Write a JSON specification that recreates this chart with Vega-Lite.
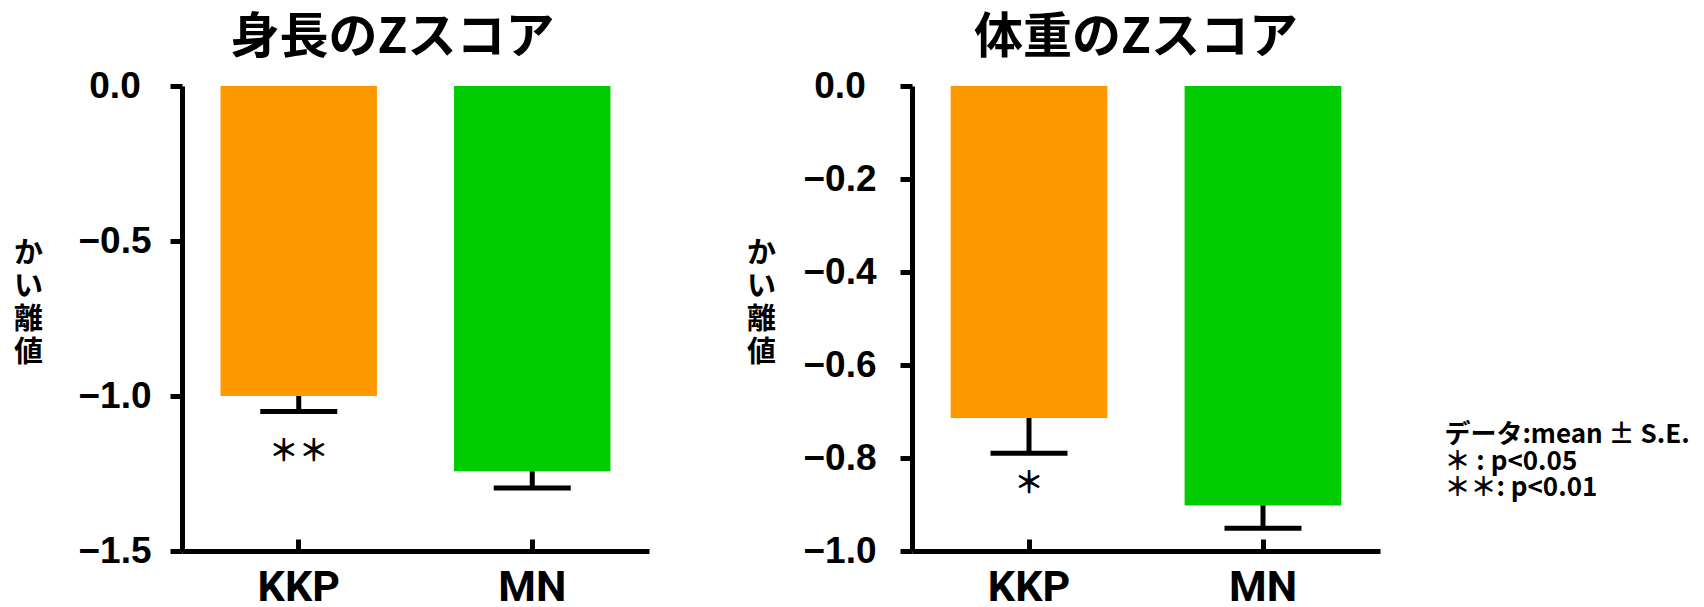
{
  "$schema": "https://vega.github.io/schema/vega-lite/v6.json",
  "background": "white",
  "padding": {"left": 13, "top": 14, "right": 5, "bottom": 0},
  "bounds": "flush",
  "spacing": 263,
  "config": {"view": {"stroke": null}, "axis": {"grid": false}},
  "datasets": {
    "heightZ": [
      {"group": "KKP", "mean": -1.0, "lower": -1.05, "sig": "＊＊"},
      {"group": "MN", "mean": -1.243, "lower": -1.297, "sig": ""}
    ],
    "weightZ": [
      {"group": "KKP", "mean": -0.714, "lower": -0.79, "sig": "＊"},
      {"group": "MN", "mean": -0.902, "lower": -0.951, "sig": ""}
    ],
    "note": [
      {"line": 1, "text": "データ:mean ± S.E."},
      {"line": 2, "text": "＊ : p<0.05"},
      {"line": 3, "text": "＊＊: p<0.01"}
    ]
  },
  "hconcat": [
    {
      "width": 467,
      "height": 465,
      "data": {"name": "heightZ"},
      "title": {"text": "身長のZスコア", "font": "Noto Sans CJK JP", "fontSize": 49, "fontWeight": "bold", "color": "black", "anchor": "middle", "frame": "group", "dx": -23, "offset": -35, "baseline": "alphabetic"},
      "encoding": {
        "x": {
          "field": "group", "type": "nominal", "sort": null,
          "scale": {"paddingInner": 0.33, "paddingOuter": 0.165},
          "axis": {"title": null, "labelAngle": 0, "domainColor": "black", "domainWidth": 5, "tickColor": "black", "tickWidth": 5, "tickSize": -12, "labelFont": "Roboto", "labelFontSize": 43, "labelFontWeight": "bold", "labelColor": "black", "labelPadding": 27, "labelBaseline": "top"}
        }
      },
      "layer": [
        {
          "mark": {"type": "bar"},
          "encoding": {
            "y": {
              "field": "mean", "type": "quantitative", "title": ["か", "い", "離", "値"],
              "scale": {"domain": [-1.5, 0], "nice": false},
              "axis": {"values": [0, -0.5, -1, -1.5], "format": ".1f", "domainColor": "black", "domainWidth": 5, "tickColor": "black", "tickWidth": 5, "tickSize": 12, "labelFont": "Liberation Sans", "labelFontSize": 37, "labelFontWeight": "bold", "labelColor": "black", "labelAlign": "center", "labelBaseline": "middle", "labelPadding": 55.5, "labelFlush": false, "labelOverlap": false, "titleFont": "Noto Sans CJK JP", "titleFontSize": 29, "titleFontWeight": "bold", "titleColor": "black", "titleAngle": 0, "titleAlign": "center", "titleBaseline": "middle", "titleX": -154, "titleY": 167, "titleLineHeight": 33}
            },
            "color": {"field": "group", "type": "nominal", "scale": {"domain": ["KKP", "MN"], "range": ["#FF9900", "#00CC00"]}, "legend": null}
          }
        },
        {
          "mark": {"type": "rule", "strokeWidth": 5, "color": "black"},
          "encoding": {"y": {"field": "mean", "type": "quantitative", "title": ["か", "い", "離", "値"]}, "y2": {"field": "lower"}}
        },
        {
          "mark": {"type": "tick", "thickness": 5, "size": 77, "color": "black", "opacity": 1},
          "encoding": {"y": {"field": "lower", "type": "quantitative", "title": ["か", "い", "離", "値"]}}
        },
        {
          "mark": {"type": "text", "font": "Noto Sans CJK JP", "fontSize": 30, "fontWeight": "bold", "baseline": "middle", "dy": 40, "color": "black"},
          "encoding": {"y": {"field": "lower", "type": "quantitative", "title": ["か", "い", "離", "値"]}, "text": {"field": "sig"}}
        },
        {
          "mark": {"type": "rule", "strokeWidth": 5, "color": "black"},
          "encoding": {"y": {"datum": 0, "type": "quantitative", "title": ["か", "い", "離", "値"]}}
        }
      ]
    },
    {
      "width": 468,
      "height": 465,
      "title": {"text": "体重のZスコア", "font": "Noto Sans CJK JP", "fontSize": 49, "fontWeight": "bold", "color": "black", "anchor": "middle", "frame": "group", "dx": -10, "offset": -35, "baseline": "alphabetic"},
      "layer": [
        {
          "data": {"name": "weightZ"},
          "encoding": {
            "x": {
              "field": "group", "type": "nominal", "sort": null,
              "scale": {"paddingInner": 0.33, "paddingOuter": 0.165},
              "axis": {"title": null, "labelAngle": 0, "domainColor": "black", "domainWidth": 5, "tickColor": "black", "tickWidth": 5, "tickSize": -12, "labelFont": "Roboto", "labelFontSize": 43, "labelFontWeight": "bold", "labelColor": "black", "labelPadding": 27, "labelBaseline": "top"}
            }
          },
          "layer": [
            {
              "mark": {"type": "bar"},
              "encoding": {
                "y": {
                  "field": "mean", "type": "quantitative", "title": ["か", "い", "離", "値"],
                  "scale": {"domain": [-1.0, 0], "nice": false},
                  "axis": {"values": [0, -0.2, -0.4, -0.6, -0.8, -1.0], "format": ".1f", "domainColor": "black", "domainWidth": 5, "tickColor": "black", "tickWidth": 5, "tickSize": 12, "labelFont": "Liberation Sans", "labelFontSize": 37, "labelFontWeight": "bold", "labelColor": "black", "labelAlign": "center", "labelBaseline": "middle", "labelPadding": 60.5, "labelFlush": false, "labelOverlap": false, "titleFont": "Noto Sans CJK JP", "titleFontSize": 29, "titleFontWeight": "bold", "titleColor": "black", "titleAngle": 0, "titleAlign": "center", "titleBaseline": "middle", "titleX": -151, "titleY": 167, "titleLineHeight": 33}
                },
                "color": {"field": "group", "type": "nominal", "scale": {"domain": ["KKP", "MN"], "range": ["#FF9900", "#00CC00"]}, "legend": null}
              }
            },
            {
              "mark": {"type": "rule", "strokeWidth": 5, "color": "black"},
              "encoding": {"y": {"field": "mean", "type": "quantitative", "title": ["か", "い", "離", "値"]}, "y2": {"field": "lower"}}
            },
            {
              "mark": {"type": "tick", "thickness": 5, "size": 77, "color": "black", "opacity": 1},
              "encoding": {"y": {"field": "lower", "type": "quantitative", "title": ["か", "い", "離", "値"]}}
            },
            {
              "mark": {"type": "text", "font": "Noto Sans CJK JP", "fontSize": 30, "fontWeight": "bold", "baseline": "middle", "dy": 31, "color": "black"},
              "encoding": {"y": {"field": "lower", "type": "quantitative", "title": ["か", "い", "離", "値"]}, "text": {"field": "sig"}}
            },
            {
              "mark": {"type": "rule", "strokeWidth": 5, "color": "black"},
              "encoding": {"y": {"datum": 0, "type": "quantitative", "title": ["か", "い", "離", "値"]}}
            }
          ]
        },
        {
          "data": {"name": "note"},
          "mark": {"type": "text", "align": "left", "baseline": "middle", "font": "Noto Sans CJK JP", "fontSize": 26, "fontWeight": "bold", "color": "black"},
          "encoding": {
            "x": {"datum": 1, "type": "quantitative", "scale": {"domain": [0, 0.879], "nice": false, "zero": false}, "axis": null},
            "y": {"field": "line", "type": "quantitative", "scale": {"domain": [-12.17, 5.377], "reverse": true, "nice": false, "zero": false}, "axis": null},
            "text": {"field": "text"}
          }
        }
      ],
      "resolve": {"scale": {"x": "independent", "y": "independent"}, "axis": {"x": "independent", "y": "independent"}}
    }
  ]
}
